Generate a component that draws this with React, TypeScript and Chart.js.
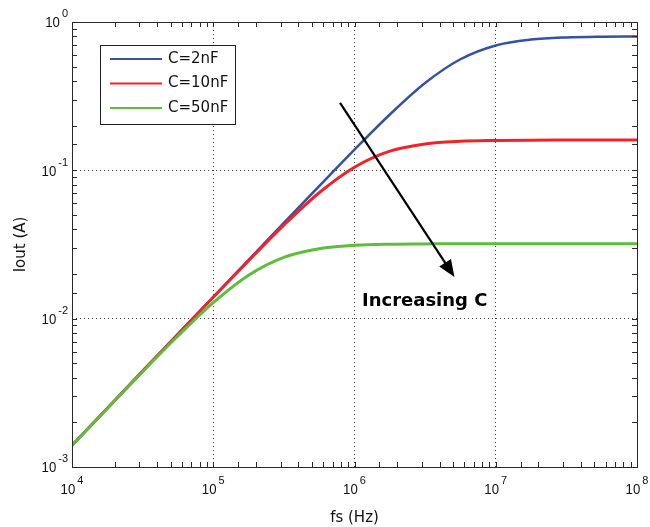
import React, { useEffect, useRef } from "react";
import { Chart, registerables } from "chart.js";

Chart.register(...registerables);

// ---- data (log-log) ----
const freqHz = [
  1e4, 1.78e4, 3.16e4, 5.62e4, 1e5, 1.78e5, 3.16e5, 5.62e5, 1e6, 1.78e6, 3.16e6,
  5.62e6, 1e7, 1.78e7, 3.16e7, 5.62e7, 1e8,
];
const iout2nF = [
  0.0014, 0.00249, 0.00443, 0.00786, 0.014, 0.0249, 0.0442, 0.0783, 0.138, 0.238, 0.388,
  0.561, 0.695, 0.761, 0.787, 0.796, 0.798,
];
const iout10nF = [
  0.0014, 0.00249, 0.00443, 0.00786, 0.01395, 0.0246, 0.0427, 0.0706, 0.105, 0.1347, 0.1505,
  0.1568, 0.1589, 0.1597, 0.1599, 0.16, 0.16,
];
const iout50nF = [
  0.0014, 0.00248, 0.00439, 0.00764, 0.01283, 0.01965, 0.0259, 0.0296, 0.0312, 0.03176, 0.0319,
  0.032, 0.032, 0.032, 0.032, 0.032, 0.032,
];
const seriesLabels = ["C=2nF", "C=10nF", "C=50nF"];
const seriesValues = [iout2nF, iout10nF, iout50nF];
const seriesColors = ["#3352a4", "#f0232b", "#5fbd3e"];
const xDecadeExponents = [4, 5, 6, 7, 8];
const yDecadeExponents = [-3, -2, -1, 0];
const xAxisTitle = "fs (Hz)";
const yAxisTitle = "Iout (A)";
const annotationText = "Increasing C";
const arrowFrom = { x: 7.9e5, y: 0.285 };
const arrowTo = { x: 5.1e6, y: 0.0191 };
const annotationAt = { x: 1.13e6, y: 0.013 };

const X_MIN = Math.pow(10, xDecadeExponents[0]);
const X_MAX = Math.pow(10, xDecadeExponents[xDecadeExponents.length - 1]);
const Y_MIN = Math.pow(10, yDecadeExponents[0]);
const Y_MAX = Math.pow(10, yDecadeExponents[yDecadeExponents.length - 1]);

const TICK_FONT = '"Liberation Sans", Arial, sans-serif';
const TEXT_FONT = '"DejaVu Sans", sans-serif';

const isMajor = (v: number) => {
  const e = Math.log10(v);
  return Math.abs(e - Math.round(e)) < 1e-6;
};

function gridColor(v: number | undefined, min: number, max: number) {
  if (v === undefined) return "rgba(0,0,0,0)";
  if (!isMajor(v)) return "rgba(0,0,0,0)";
  if (Math.abs(v - min) / min < 1e-6 || Math.abs(v - max) / max < 1e-6) return "rgba(0,0,0,0)";
  return "#3a3a3a";
}

function drawPow(ctx: CanvasRenderingContext2D, exp: number, x: number, baseline: number, anchor: "center" | "right") {
  const big = `15px ${TICK_FONT}`;
  const small = `11px ${TICK_FONT}`;
  const sx = 0.88;
  ctx.font = big;
  const wb = ctx.measureText("10").width * sx;
  ctx.font = small;
  const es = String(exp);
  const we = ctx.measureText(es).width;
  const gap = 2;
  const total = wb + gap + we;
  const left = anchor === "center" ? x - total / 2 : x - total;
  ctx.textAlign = "left";
  ctx.textBaseline = "alphabetic";
  ctx.fillStyle = "#111";
  ctx.save();
  ctx.translate(left, baseline);
  ctx.scale(sx, 1);
  ctx.font = big;
  ctx.fillText("10", 0, 0);
  ctx.restore();
  ctx.font = small;
  ctx.fillText(es, left + wb + gap, baseline - 10);
}

const overlayPlugin = {
  id: "overlay",
  afterDatasetsDraw(chart: any) {
    const { ctx, chartArea: a, scales } = chart;
    const xs = scales.x;
    const ys = scales.y;
    ctx.save();
    // arrow
    const x1 = xs.getPixelForValue(arrowFrom.x);
    const y1 = ys.getPixelForValue(arrowFrom.y);
    const x2 = xs.getPixelForValue(arrowTo.x);
    const y2 = ys.getPixelForValue(arrowTo.y);
    const ang = Math.atan2(y2 - y1, x2 - x1);
    const headLen = 17;
    const headW = 7;
    ctx.strokeStyle = "#000";
    ctx.fillStyle = "#000";
    ctx.lineWidth = 2.2;
    ctx.beginPath();
    ctx.moveTo(x1, y1);
    ctx.lineTo(x2 - Math.cos(ang) * (headLen - 2), y2 - Math.sin(ang) * (headLen - 2));
    ctx.stroke();
    ctx.beginPath();
    ctx.moveTo(x2, y2);
    const bx = x2 - Math.cos(ang) * headLen;
    const by = y2 - Math.sin(ang) * headLen;
    ctx.lineTo(bx + Math.sin(ang) * headW, by - Math.cos(ang) * headW);
    ctx.lineTo(bx - Math.sin(ang) * headW, by + Math.cos(ang) * headW);
    ctx.closePath();
    ctx.fill();
    // annotation text
    ctx.font = `bold 18px ${TEXT_FONT}`;
    ctx.textAlign = "left";
    ctx.textBaseline = "middle";
    ctx.fillStyle = "#000";
    ctx.fillText(annotationText, xs.getPixelForValue(annotationAt.x), ys.getPixelForValue(annotationAt.y));

    // legend
    const lx = a.left + 28;
    const ly = a.top + 23;
    const lw = 135;
    const lh = 79;
    ctx.fillStyle = "#fff";
    ctx.fillRect(lx, ly, lw, lh);
    ctx.strokeStyle = "#222";
    ctx.lineWidth = 1;
    ctx.strokeRect(lx + 0.5, ly + 0.5, lw, lh);
    ctx.font = `15px ${TEXT_FONT}`;
    ctx.textBaseline = "middle";
    chart.data.datasets.forEach((ds: any, i: number) => {
      const yy = ly + 14 + i * 24.5;
      ctx.strokeStyle = ds.borderColor;
      ctx.lineWidth = 2;
      ctx.beginPath();
      ctx.moveTo(lx + 10, yy);
      ctx.lineTo(lx + 62, yy);
      ctx.stroke();
      ctx.fillStyle = "#111";
      ctx.fillText(ds.label, lx + 68, yy);
    });
    ctx.restore();
  },
  afterDraw(chart: any) {
    const { ctx, chartArea: a, scales } = chart;
    const xs = scales.x;
    const ys = scales.y;
    ctx.save();
    ctx.strokeStyle = "#2a2a2a";
    ctx.lineWidth = 1;
    ctx.strokeRect(Math.round(a.left) + 0.5, Math.round(a.top) + 0.5, Math.round(a.right - a.left), Math.round(a.bottom - a.top));
    const L = 5;
    ctx.beginPath();
    xs.ticks.forEach((t: any) => {
      const px = Math.round(xs.getPixelForValue(t.value)) + 0.5;
      ctx.moveTo(px, a.bottom);
      ctx.lineTo(px, a.bottom - L);
      ctx.moveTo(px, a.top);
      ctx.lineTo(px, a.top + L);
    });
    ys.ticks.forEach((t: any) => {
      const py = Math.round(ys.getPixelForValue(t.value)) + 0.5;
      ctx.moveTo(a.left, py);
      ctx.lineTo(a.left + L, py);
      ctx.moveTo(a.right, py);
      ctx.lineTo(a.right - L, py);
    });
    ctx.stroke();
    // decade tick labels
    xDecadeExponents.forEach((e) => {
      const px = xs.getPixelForValue(Math.pow(10, e));
      drawPow(ctx, e, px, a.bottom + 27, "center");
    });
    yDecadeExponents.forEach((e) => {
      const py = ys.getPixelForValue(Math.pow(10, e));
      drawPow(ctx, e, a.left - 4, py + 5.4, "right");
    });
    ctx.restore();
  },
};

export default function App() {
  const canvasRef = useRef<HTMLCanvasElement | null>(null);

  useEffect(() => {
    document.body.style.margin = "0";
    const canvas = canvasRef.current;
    if (!canvas) return;
    const chart = new Chart(canvas, {
      type: "line",
      data: {
        datasets: seriesLabels.map((label, i) => ({
          label,
          data: freqHz.map((f, j) => ({ x: f, y: seriesValues[i][j] })),
          borderColor: seriesColors[i],
          backgroundColor: seriesColors[i],
          borderWidth: i === 0 ? 2.5 : 3,
          pointRadius: 0,
          cubicInterpolationMode: "monotone" as const,
          order: 3 - i,
        })),
      },
      options: {
        responsive: false,
        animation: false,
        layout: { padding: { top: 22, right: 13, left: 0, bottom: 0 } },
        plugins: { legend: { display: false }, tooltip: { enabled: false } },
        scales: {
          x: {
            type: "logarithmic",
            min: X_MIN,
            max: X_MAX,
            position: "bottom",
            grid: {
              color: (c: any) => gridColor(c.tick?.value, X_MIN, X_MAX),
              lineWidth: 1,
              drawTicks: false,
            },
            border: { display: false, dash: [1, 3] },
            ticks: { display: false, autoSkip: false },
            title: {
              display: true,
              text: xAxisTitle,
              color: "#111",
              font: { family: TEXT_FONT, size: 15 },
              padding: { top: 7, bottom: 0 },
            },
            afterFit: (s: any) => {
              s.height = 60;
            },
          },
          y: {
            type: "logarithmic",
            min: Y_MIN,
            max: Y_MAX,
            position: "left",
            grid: {
              color: (c: any) => gridColor(c.tick?.value, Y_MIN, Y_MAX),
              lineWidth: 1,
              drawTicks: false,
            },
            border: { display: false, dash: [1, 3] },
            ticks: { display: false, autoSkip: false },
            title: {
              display: true,
              text: yAxisTitle,
              color: "#111",
              font: { family: TEXT_FONT, size: 15 },
              padding: { top: 12, bottom: 0 },
            },
            afterFit: (s: any) => {
              s.width = 72;
            },
          },
        },
      } as any,
      plugins: [overlayPlugin],
    });
    return () => chart.destroy();
  }, []);

  return (
    <div style={{ width: 650, height: 527, background: "#fff" }}>
      <canvas ref={canvasRef} width={650} height={527} style={{ display: "block" }} />
    </div>
  );
}
